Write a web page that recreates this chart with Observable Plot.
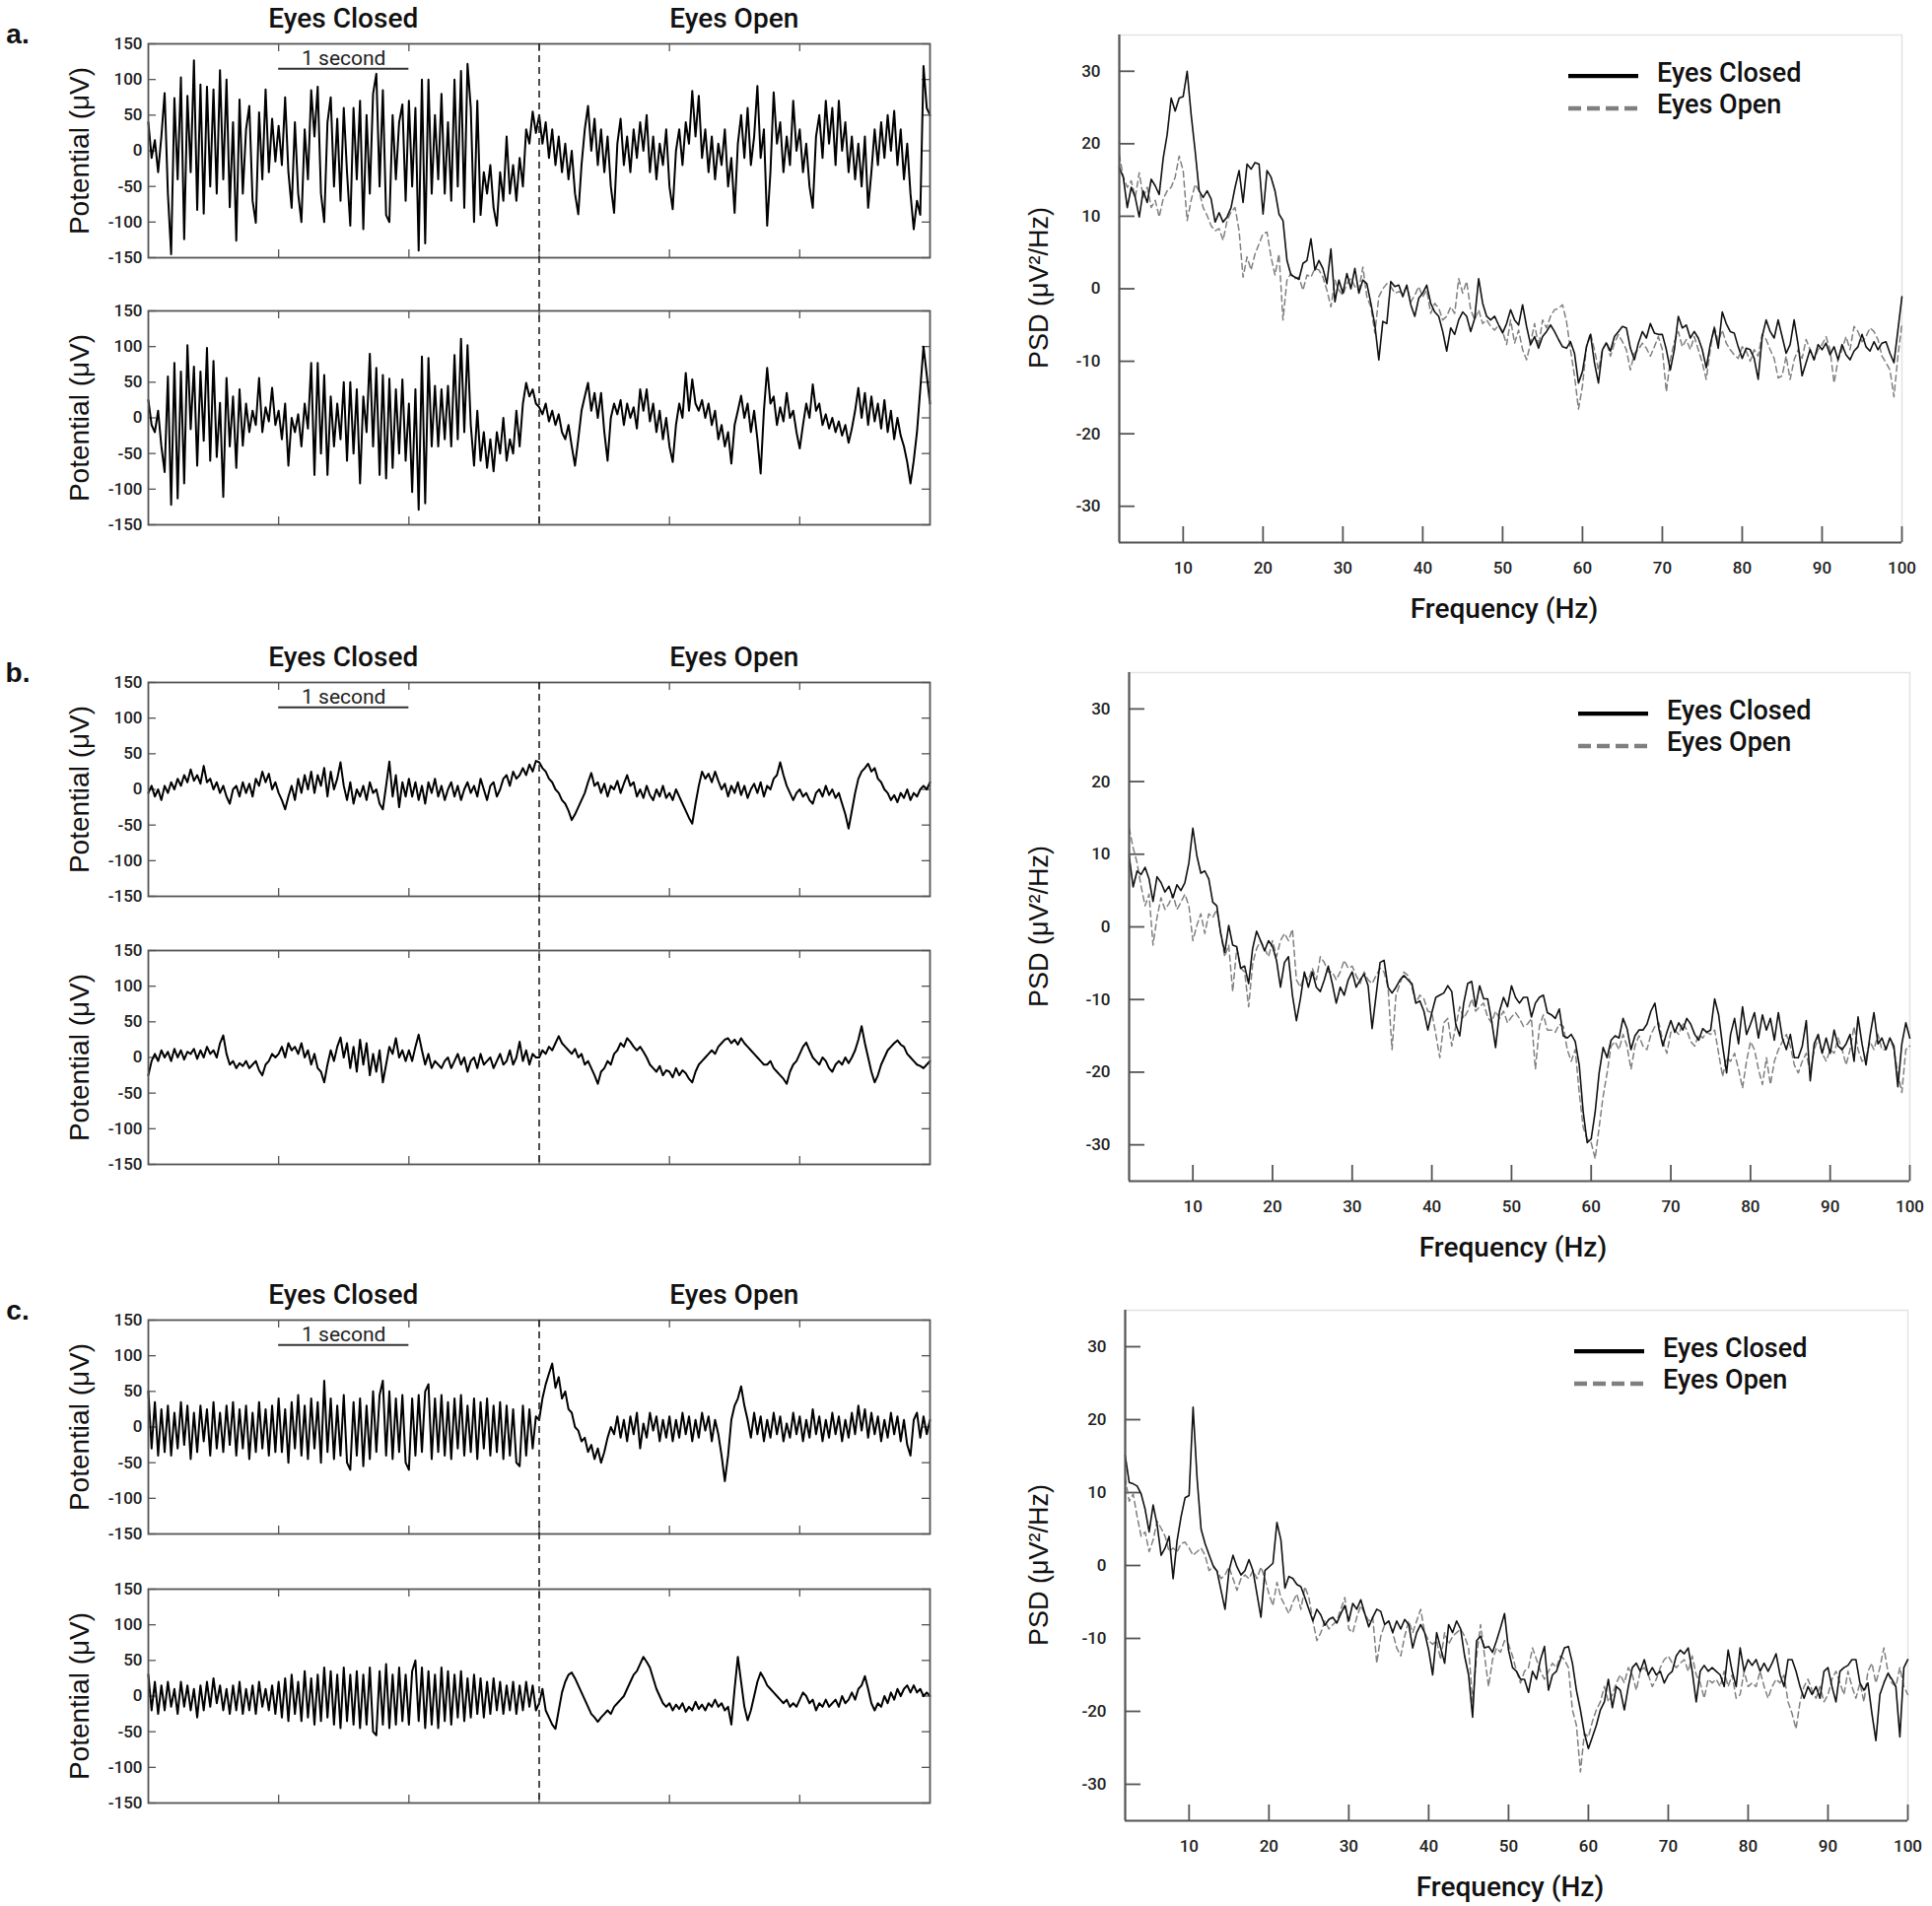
<!DOCTYPE html>
<html>
<head>
<meta charset="utf-8">
<script src="https://cdn.jsdelivr.net/npm/d3@7"></script>
<script src="https://cdn.jsdelivr.net/npm/@observablehq/plot@0.6"></script>
<style>
  html, body { margin: 0; padding: 0; background: #fff; }
  #root { position: relative; width: 1960px; height: 1934px; overflow: hidden; background: #fff; }
  .lbl { position: absolute; white-space: nowrap; line-height: 1; color: #111; }
  .cond { font-family: Roboto, "Liberation Sans", sans-serif; font-size: 28px; font-weight: 500; }
  .ylab { font-family: "Liberation Sans", Arial, sans-serif; font-size: 28px; }
  .panel { font-family: "Liberation Sans", Arial, sans-serif; font-size: 28px; font-weight: bold; }
</style>
</head>
<body>
<div id="root"></div>
<script>
// ---------------- DATA ----------------
// EEG traces: 0..6 s, one sample every 0.025 s (241 values), potential in µV
const eegTickValues = [-150, -100, -50, 0, 50, 100, 150];
const eegSeconds = [1, 2, 3, 4, 5];
const conditionLabels = ["Eyes Closed", "Eyes Open"];
const eventTime = 3;           // eyes open at 3 s
const scaleBarSeconds = [1, 2];
const scaleBarLabel = "1 second";
const panelLabels = ["a.", "b.", "c."];

const eegA1 = [
  40,-10,15,-30,20,81,-60,-145,74,-40,103,-124,77,-30,127,-83,93,-88,90,-50,86,-60,113,-40,100,-79,40,-126,72,-60,30,63,-70,-101,54,-40,86,-30,45,-15,
  35,-20,75,-30,-80,40,-60,-100,30,-40,85,20,90,-60,-100,40,75,-50,45,-70,60,-30,-105,60,-40,70,-110,50,-60,80,108,-50,85,-90,-100,50,-40,40,65,-70,
  70,-50,60,-140,100,-130,100,-60,50,-40,80,-60,40,-70,100,-50,112,-80,122,60,-100,70,-90,-30,-60,-20,-80,-105,-30,-70,20,-60,-20,-70,-10,-50,30,10,55,25,
  50,10,40,-10,30,-20,20,-30,10,-40,0,-60,-89,-20,30,63,0,45,-20,30,-30,20,-50,-87,10,45,-20,20,-30,30,-10,40,0,50,-30,20,-40,10,-20,30,
  -50,-82,0,30,-20,40,10,84,20,77,-10,30,-30,20,-40,10,-20,30,-50,-10,-87,10,50,-10,60,-20,20,91,-10,30,-105,-30,82,10,40,-30,20,-20,70,0,
  30,-30,10,-50,-80,20,50,-10,70,10,60,-20,70,0,40,-30,20,-40,10,-50,20,-80,-30,30,-20,40,-10,50,0,56,-20,30,-40,10,-60,-110,-70,-90,119,60,50
];
const eegA2 = [
  25,-10,-20,10,-40,-76,58,-122,77,-113,65,-92,102,-16,72,-67,65,-32,98,-60,80,-55,21,-111,56,-40,30,-70,40,-39,20,-20,10,-10,56,-20,15,-5,42,-10,
  10,-30,20,-67,0,-20,5,-40,20,-15,77,-80,77,-50,60,-80,30,-40,20,-30,50,-60,50,-50,40,-92,30,-20,90,-40,70,-80,60,-85,55,-70,40,-50,54,-60,
  20,-104,40,-129,86,-120,84,-40,45,-40,40,-30,45,-40,88,-30,111,-20,102,-10,-67,10,-60,-20,-70,-30,-75,-20,-50,0,-60,-30,-50,10,-40,20,49,30,40,20,
  15,5,20,-5,10,-10,5,-20,-30,-10,-40,-67,-30,10,30,49,10,35,0,35,-20,-60,0,20,5,25,-10,20,0,15,-15,40,10,40,-5,20,-20,10,-30,0,
  -40,-62,-10,20,0,63,10,54,20,10,25,0,20,-10,10,-30,-10,-40,-20,-64,-10,10,31,0,20,-20,10,-30,-78,10,70,20,30,-10,15,-5,35,0,10,-20,
  -43,-10,20,0,47,10,20,-10,5,-15,0,-20,-5,-25,-10,-35,-15,10,42,0,35,-10,30,-5,20,-15,25,-20,10,-30,0,-25,-40,-62,-92,-60,-20,40,100,60,20
];
const eegB1 = [
  -5,5,-10,0,-15,5,-5,10,0,15,5,20,10,28,12,20,8,33,10,15,0,10,-5,5,-10,-20,0,5,-10,10,-5,8,-10,15,5,25,10,22,0,10,
  -5,-15,-28,-10,5,-15,15,-5,20,0,25,-5,20,5,30,-10,25,0,15,38,5,-15,10,-20,0,-10,5,-15,10,-5,0,-20,-28,5,39,-10,20,-25,10,-10,
  15,-10,10,-15,5,-20,10,-5,15,-10,5,-15,0,10,-10,5,-15,0,10,-5,5,-10,15,0,-15,5,10,-10,0,15,20,5,25,15,20,30,20,35,25,40,
  38,30,25,15,10,0,-5,-15,-20,-30,-43,-35,-25,-15,-5,10,23,5,10,-5,8,-10,5,0,12,-5,8,20,5,10,-10,0,-12,5,-8,-15,0,-10,5,-12,
  -5,-15,0,-10,-20,-30,-40,-48,-20,5,25,15,22,10,25,12,0,8,-10,5,-5,10,-8,5,-12,0,8,-5,10,-10,5,0,15,20,38,20,5,-5,-15,-5,
  0,-10,-5,-15,-20,-5,0,-10,5,-8,0,-12,-5,-20,-35,-55,-30,-5,15,25,30,36,25,30,15,10,0,-5,-15,-8,-18,-5,-12,0,-15,-5,-10,0,5,0,10
];
const eegB2 = [
  -25,-5,5,-5,10,0,8,-5,12,0,10,-3,8,5,12,-2,10,0,15,5,10,0,20,31,5,-10,-5,-15,-8,-12,-5,-15,-10,-5,-18,-25,-10,-5,5,0,
  5,15,0,20,10,15,5,20,0,10,-10,5,-15,-20,-35,-10,10,-5,15,28,0,20,-15,15,-20,25,-10,20,-25,5,-20,10,-35,-10,15,5,27,0,10,-5,
  10,-5,15,32,10,-10,5,-15,-5,-10,-15,-5,0,-15,-5,5,-10,0,-20,-5,0,-15,5,-10,-5,0,-15,-5,5,-10,-5,10,-10,0,22,-5,10,-10,5,0,
  0,10,5,15,10,20,30,20,15,10,5,12,0,5,-10,-5,-15,-25,-37,-20,-15,-5,-10,5,10,20,15,27,22,15,10,15,8,0,-10,-15,-20,-12,-25,-18,
  -20,-28,-15,-25,-18,-22,-30,-35,-20,-10,-5,0,5,10,5,15,20,25,27,20,25,18,27,20,15,10,5,0,-5,-10,-10,-5,-15,-20,-25,-30,-37,-20,-10,-5,
  5,15,21,10,0,-5,-10,0,-5,-15,-20,-10,-5,-10,0,-8,0,10,25,44,20,0,-20,-35,-25,-10,0,10,15,20,24,18,15,5,0,-5,-10,-12,-15,-10,-5
];
const eegC1 = [
  50,-30,35,-40,25,-35,30,-40,20,-30,35,-25,30,-45,20,-35,30,-20,25,-40,35,-30,20,-35,30,-25,35,-40,25,-30,30,-45,20,-35,35,-30,25,-40,30,-35,
  40,-35,25,-50,35,-30,45,-40,30,-45,40,-30,35,-50,65,-35,40,-45,30,-40,45,-50,-60,35,-40,40,-55,30,-45,50,-35,45,65,-40,50,-45,40,-35,45,-50,
  -60,40,-40,45,-35,50,60,-45,40,-35,45,-40,35,-45,40,-30,45,-40,30,-35,40,-45,35,-30,40,-40,30,-35,35,-45,30,-40,25,-50,-55,30,-40,25,-30,15,
  10,40,60,75,89,55,70,40,50,25,20,0,-5,-20,-15,-35,-25,-45,-30,-50,-35,-15,0,-10,15,-15,10,-20,15,-10,20,-30,5,-15,20,-5,15,-20,10,-15,
  15,-20,10,-15,20,-10,15,-20,10,-15,20,-5,15,-20,10,-10,-40,-76,-40,10,30,40,57,30,10,-15,20,-10,15,-20,10,-15,20,-10,15,-20,5,-15,20,-10,
  15,-20,10,-15,25,-10,15,-20,10,-15,20,-10,15,-20,10,-15,20,-10,30,-5,25,-15,20,-10,15,-20,10,-15,20,-10,15,-20,10,-25,-40,10,20,-15,15,-10,10
];
const eegC2 = [
  30,-20,20,-25,15,-20,20,-15,10,-25,20,-15,15,-20,10,-30,15,-20,20,-15,25,-10,15,-20,10,-25,15,-20,20,-25,10,-20,15,-25,20,-15,10,-20,15,-25,
  20,-30,25,-35,30,-25,20,-35,35,-30,25,-40,30,-35,40,-30,35,-40,30,-45,40,-35,30,-40,35,-45,30,-40,40,-50,-55,35,-40,45,-45,30,-40,40,-35,30,
  -40,35,50,-35,40,-45,35,-40,30,-45,40,-35,35,-40,30,-30,35,-35,25,-30,30,-25,25,-30,20,-25,25,-20,20,-25,15,-20,20,-25,15,-20,20,-15,15,-20,
  -10,10,-20,-30,-40,-46,-20,5,20,30,33,25,15,5,-5,-15,-25,-30,-36,-30,-25,-20,-25,-15,-10,-5,0,10,20,30,35,45,55,48,40,25,10,0,-10,-15,
  -10,-20,-12,-18,-10,-22,-15,-20,-8,-18,-12,-20,-10,-15,-5,-15,-10,-20,-15,-40,10,55,20,-15,-34,-20,0,20,33,25,15,10,5,0,-5,-10,-5,-15,-10,-15,
  -5,5,0,-10,-5,-20,-10,-15,-5,-15,-10,-5,-15,0,-10,-5,5,-5,10,15,28,10,-10,-20,-10,-15,0,-10,5,-5,10,0,10,15,5,15,5,10,0,5,0
];

// PSD: 2..100 Hz every 0.5 Hz (197 values), µV²/Hz (dB)
const psdYTickValues = [-30, -20, -10, 0, 10, 20, 30];
const psdXTickValues = [10, 20, 30, 40, 50, 60, 70, 80, 90, 100];
const psdA_closed = [
  16.7,15.4,11.2,14,12.6,9.9,13.5,11.9,15.1,14.2,13,18,21.3,26.3,24.5,26.3,26.5,30,24,19,
  13.5,12.6,13.5,12.4,9.2,10.5,9.2,9.9,11.2,14,16.3,11.9,17.2,16.5,17.4,17.2,10.3,16.3,15.4,13.5,
  10.3,9.4,3.9,1.9,1.6,1.3,3.5,3.9,6.9,2.6,3.9,2.8,0.7,5.5,-1.8,1.2,-0.6,2.1,0,2.8,
  -0.6,1.2,0.7,-2,-5,-9.8,-4.5,-4.8,1,0.3,0.5,-1.1,0.5,-2.2,-3.8,-1.3,-0.6,0.5,-2,-3.2,
  -3.8,-5.9,-8.6,-5.4,-6.3,-4.3,-3.2,-3.8,-5.9,-4.1,1.4,-2,-3.8,-4.3,-3.8,-5,-6.1,-4.8,-2.9,-4.3,
  -5,-2.2,-5.2,-7.7,-6.6,-8.2,-6.6,-5.9,-5,-5.9,-7,-8,-8.2,-7.3,-8.9,-13,-11.4,-8,-6.3,-10.2,
  -13,-8.4,-7.5,-8.6,-6.6,-5.9,-5.2,-5.4,-8.2,-9.8,-7.5,-5.9,-6.8,-4.8,-6.1,-6.3,-6.3,-8.4,-11.2,-8.4,
  -3.8,-5.4,-5,-6.8,-5.9,-6.8,-8.4,-10.9,-7.7,-5.4,-8.2,-3.2,-4.8,-5.9,-6.1,-8,-9.6,-8.2,-8.4,-9.6,
  -12.5,-6.6,-4.3,-5.9,-6.8,-4.3,-6.6,-8.9,-7.7,-4.3,-7.7,-12,-10.2,-8.4,-9.8,-7.7,-8.4,-7.5,-9.1,-8,
  -9.8,-7.7,-9.1,-9.8,-8.6,-8,-6.3,-8,-8.6,-7.3,-8.4,-7.5,-7.3,-8.9,-10.2,-5.7,-1.1
];
const psdA_open = [
  18.5,15.4,14,14.9,12.6,16,12.6,14,11.2,12.2,9.9,12.4,13.5,14,15.4,18.3,16.3,9.4,12.2,14.4,
  13.5,11.2,10.1,8.7,8,8.3,6.7,9.4,10.6,11.2,8,1.6,4.4,2.6,4.8,6.2,7.6,7.8,4.4,1.9,
  4.8,-4.3,1.2,2.1,1.4,1.6,-0.2,1.9,1.6,2.8,2.6,1.6,-0.2,-2.5,1.2,-0.2,-0.9,0.7,1.4,0.3,
  -0.2,3,-1.1,-2.5,-6.1,-1.1,0,0.7,0.3,-0.6,-0.4,-0.6,0.3,-1.8,-0.9,0.3,-1.1,-0.2,-3.4,-2,
  -2.7,-4.3,-3.8,-2.5,-3.4,1.4,-0.6,1,-2.9,-4.3,-2.9,-4.8,-4.3,-5.2,-5.7,-5,-5.9,-7.7,-4.3,-7.5,
  -5.7,-8.4,-9.8,-7.5,-4.8,-8,-4.3,-5.4,-3.8,-2.9,-2.7,-2.2,-4.5,-8.4,-12,-16.6,-13.4,-8,-6.1,-8.4,
  -11.2,-8.4,-7.3,-9.3,-7.5,-6.3,-7.3,-8.4,-11.2,-8.9,-8.4,-7.5,-8.2,-9.3,-8,-6.6,-8.4,-14.2,-9.8,-7.3,
  -5.9,-8,-7,-8.4,-6.6,-8.4,-10.2,-12.5,-8.4,-5.2,-7.3,-5.7,-7.5,-8.4,-9.1,-9.6,-8,-8.6,-10,-8.4,
  -9.3,-6.3,-7,-8.4,-9.6,-12.3,-12,-9.3,-12.5,-9.8,-8.4,-9.6,-7,-8.4,-9.8,-8.4,-7.7,-6.6,-8.4,-13,
  -9.8,-8.4,-6.6,-8.4,-5.2,-5.9,-7.3,-6.6,-5.4,-5.9,-7,-9.3,-10.2,-11.2,-14.9,-9.3,-4.8
];
const psdB_closed = [
  9.8,5.5,7.7,7.2,8.2,6.6,3.5,6.9,6.1,4.8,5.6,4,5.8,5,6.1,8.8,13.6,9.8,7.4,7.7,
  6.6,3.4,2.9,-0.9,-3.5,0.2,-2.5,-2.7,-5.7,-5.4,-7.8,-3,-0.6,-1.9,-3.3,-1.9,-2.7,-4.6,-8.3,-4.9,
  -4.1,-9.4,-12.9,-9.9,-6.2,-8.3,-6.2,-8.3,-8.9,-7.3,-5.4,-7.8,-10.5,-8.3,-9.4,-7.3,-6.2,-8.3,-7.3,-6.5,
  -8.1,-14,-9.4,-4.9,-4.6,-8.3,-9.1,-8.3,-7.3,-6.7,-7.3,-7.8,-10.5,-10.2,-11.6,-14.2,-11.8,-9.7,-9.4,-9.1,
  -8.1,-8.9,-13.4,-15,-10.5,-7.8,-7.5,-11,-8.1,-9.9,-9.9,-12.9,-16.6,-11.6,-9.7,-11,-8.1,-9.7,-10.5,-9.7,
  -9.7,-12.4,-10.5,-9.7,-9.4,-11.8,-12.1,-12.6,-11.3,-15,-15.3,-14.8,-15.8,-19,-25.5,-29.7,-29.2,-25.5,-20.1,-16.6,
  -18,-15.6,-15,-15.3,-12.6,-14,-16.9,-15,-14.2,-14.2,-13.4,-11.6,-10.5,-14,-16.4,-14.5,-12.9,-14.5,-13.2,-14.2,
  -12.6,-13.4,-14.8,-15.6,-14,-14.5,-14.2,-9.9,-12.1,-16.4,-20.1,-14.8,-12.6,-16.1,-11,-14.8,-13.4,-11.8,-15.3,-12.1,
  -14.2,-12.6,-15.6,-11.8,-15.3,-16.9,-14.8,-18,-18,-16.4,-12.9,-21.2,-16.1,-14.8,-17.4,-15.3,-17.4,-14.2,-16.4,-16.9,
  -16.1,-14.8,-18.5,-12.4,-16.1,-19,-15,-11.8,-16.1,-15.3,-16.9,-15.3,-16.4,-22,-16.1,-13.2,-15.3
];
const psdB_open = [
  13.6,10.9,8.8,5.6,2.9,4.5,-2.5,1.3,4,2.4,3.2,4.5,2.4,3.4,4.5,2.9,-1.9,0.2,1.8,-0.9,
  1.8,1.3,2.4,-0.9,-4.1,-2.5,-8.9,-3,-5.7,-6.2,-11,-5.1,-3,-1.9,-3,-4.1,-1.9,-4.1,-1.9,-0.9,
  -1.9,-0.3,-7.3,-8.3,-6.7,-7.3,-5.7,-7.3,-4.1,-4.9,-6.2,-6.2,-7.3,-6.2,-4.6,-5.7,-5.4,-6.7,-7.8,-6.2,
  -7.3,-7.8,-6.7,-5.7,-6.2,-8.3,-16.9,-9.4,-7.8,-6.2,-6.7,-8.3,-10.5,-9.4,-9.9,-11.6,-11.8,-14.8,-18,-13.2,
  -12.6,-16.4,-13.7,-11,-12.6,-11.6,-9.9,-11.6,-11,-10.5,-12.4,-13.2,-11.6,-12.6,-11.6,-13.2,-12.4,-11.8,-12.6,-13.7,
  -13.4,-12.6,-19.6,-13.7,-12.1,-14.2,-14.2,-14.5,-13.4,-13.7,-16.9,-18.5,-16.9,-22.8,-27.6,-29.2,-29.7,-31.9,-27.6,-23.3,
  -20.1,-16.4,-15.8,-16.9,-14.8,-16.4,-19.6,-16.4,-15,-16.4,-16.9,-14.8,-13.7,-13.2,-15.8,-17.4,-14.5,-14.2,-14.8,-13.2,
  -14.2,-15.8,-16.4,-14.8,-15.3,-14.5,-14.8,-14.2,-17.4,-20.6,-18,-18.5,-17.4,-19.6,-22.2,-18.5,-15.8,-16.9,-19.6,-21.7,
  -18,-21.7,-18.5,-16.9,-15.8,-14.8,-16.4,-19,-20.1,-18.5,-17.4,-20.1,-16.9,-15.3,-17.4,-18.5,-16.9,-17.4,-15.3,-16.9,
  -19,-16.9,-13.7,-16.9,-18.5,-18,-15.8,-16.9,-14.8,-16.9,-16.9,-15.3,-16.9,-20.1,-22.8,-16.9,-16.4
];
const psdC_closed = [
  15.1,11.4,11.2,10.9,9.8,7.7,4.6,8.3,5.6,1.4,2.4,4,-1.8,3.4,6.7,9.3,9.6,21.7,12,5,
  3,1.5,0,-0.8,-3.4,-6,-0.7,1.4,-0.2,-1.3,-0.7,0.8,-0.7,-3.9,-7.1,-0.7,-0.2,0.3,5.9,3.5,
  -3.1,-1.5,-1.8,-2.6,-2.9,-4.4,-6,-7.6,-6,-6.8,-8.2,-7.4,-7.1,-7.9,-6.6,-5.5,-7.6,-5.2,-6,-4.7,
  -6.6,-8.4,-7.1,-6,-6.3,-8.1,-7.6,-9.2,-7.6,-8.7,-7.4,-8.1,-11.3,-9.2,-8.1,-9.2,-11.6,-15,-9.2,-11.3,
  -13.4,-8.1,-9.2,-7.6,-8.7,-12.4,-15,-20.8,-10.3,-9.7,-11.3,-11.1,-11.9,-10.3,-8.5,-6.6,-11.6,-14,-14.5,-15.6,
  -15.6,-17.4,-14.5,-15.6,-12.9,-11.1,-17.1,-15,-14.5,-12.9,-11.3,-11.1,-13.4,-17.1,-19.8,-23,-25.1,-23.5,-21.9,-19.8,
  -18.7,-15.6,-19.5,-16.6,-17.1,-19.8,-16.6,-14,-13.4,-14.5,-12.9,-15,-14,-15,-14.5,-16.1,-15,-14.5,-12.4,-11.6,
  -12.1,-11.3,-14.5,-18.7,-14.5,-13.7,-14.5,-14,-14.5,-15,-16.6,-11.6,-14.5,-16.6,-11.3,-14.5,-12.9,-13.7,-12.9,-14.5,
  -13.4,-14.5,-13.4,-12.1,-15,-16.6,-12.9,-12.9,-14.5,-16.6,-18.2,-16.6,-17.7,-16.6,-18.2,-14.5,-14,-16.6,-18.7,-14.5,
  -14,-13.7,-12.9,-12.9,-16.1,-17.1,-16.1,-20.3,-24,-17.7,-16.1,-14.8,-15.6,-16.6,-23.5,-14,-12.9
];
const psdC_open = [
  12,8.8,9.8,6.7,4,4.6,1.9,3.5,6.1,5.1,4,1.9,2.4,1.9,3,3.2,2.4,1.4,1.9,2.4,
  1.4,-0.7,-0.2,-0.7,-1.8,-1.3,-0.2,-1.8,-3.4,-1.8,-1.3,-1.8,-0.7,-1.8,-0.2,-1.8,-3.9,-5.5,-2.3,-4.4,
  -5.5,-6.6,-5,-3.9,-6,-2.9,-4.4,-7.6,-10.3,-9.2,-7.6,-8.7,-8.1,-7.6,-6,-4.4,-8.7,-9.2,-7.1,-5.5,
  -6.6,-7.6,-7.1,-13.4,-9.7,-8.1,-7.6,-9.2,-11.3,-12.4,-9.7,-7.6,-9.2,-7.6,-6,-9.2,-10.3,-10.8,-10.3,-12.9,
  -9.2,-10.8,-9.7,-9.2,-8.7,-9.7,-11.3,-18.7,-12.4,-8.1,-12.4,-16.6,-12.9,-11.3,-11.9,-10.3,-10.8,-12.4,-14.5,-16.1,
  -14.5,-14,-11.3,-12.9,-14.5,-15.6,-14.5,-13.4,-14,-12.4,-12.9,-14,-19.8,-21.9,-28.3,-23,-23.5,-21.4,-19.8,-18.7,
  -16.6,-18.7,-17.7,-16.1,-15,-16.1,-14,-15,-17.1,-14.5,-14,-15,-16.6,-15.6,-14,-12.9,-12.4,-13.4,-14,-13.4,
  -12.9,-14.5,-12.4,-15,-16.1,-18.2,-15.6,-16.1,-15.6,-16.6,-14.5,-16.6,-15,-18.2,-17.7,-14.5,-16.6,-16.1,-16.6,-14.5,
  -16.6,-18.2,-16.6,-15.6,-16.1,-15,-18.7,-20.3,-22.4,-18.7,-16.6,-15.6,-17.1,-18.2,-16.6,-18.7,-17.7,-15.6,-14.5,-16.1,
  -17.7,-14.5,-16.6,-18.2,-16.1,-18.7,-14.5,-13.4,-16.1,-14,-11.3,-14.5,-16.1,-16.6,-14,-16.6,-17.7
];

// ---------------- LAYOUT ----------------
const root = document.getElementById("root");
const DT = 0.025, F0 = 2, DF = 0.5;
const EEG = {left: 150, w: 793, h: 217, mL: 70, mR: 8, mT: 6, mB: 6};
const PSD = {mL: 84, mR: 8, mT: 6, mB: 60};
const FONT_COND = "Roboto, 'Liberation Sans', sans-serif";

const rows = [
  {label: panelLabels[0], top1: 44, top2: 315, e1: eegA1, e2: eegA2, pc: psdA_closed, po: psdA_open, pl: 1135, pt: 34.5, pw: 794, ph: 515},
  {label: panelLabels[1], top1: 692, top2: 964, e1: eegB1, e2: eegB2, pc: psdB_closed, po: psdB_open, pl: 1145, pt: 682, pw: 792, ph: 516},
  {label: panelLabels[2], top1: 1339, top2: 1612, e1: eegC1, e2: eegC2, pc: psdC_closed, po: psdC_open, pl: 1141, pt: 1329, pw: 794, ph: 518}
];

function addLabel(text, x, y, cls, opts = {}) {
  const d = document.createElement("div");
  d.className = "lbl " + cls;
  d.textContent = text;
  d.style.left = x + "px";
  d.style.top = y + "px";
  let tr = opts.anchor === "left" ? "translate(0,-50%)" : "translate(-50%,-50%)";
  if (opts.rotate) tr += " rotate(-90deg)";
  d.style.transform = tr;
  if (opts.size) d.style.fontSize = opts.size + "px";
  root.appendChild(d);
  return d;
}

function place(el, left, top) {
  el.style.position = "absolute";
  el.style.left = left + "px";
  el.style.top = top + "px";
  root.appendChild(el);
}

function eegPlot(values, withBar) {
  const data = values.map((v, i) => ({t: i * DT, v}));
  const tickStyle = {stroke: "#555", strokeWidth: 1.3};
  const marks = [
    Plot.ruleY(eegTickValues, {y: d => d, insetRight: EEG.w - 8, ...tickStyle}),
    Plot.ruleY(eegTickValues, {y: d => d, insetLeft: EEG.w - 8, ...tickStyle}),
    Plot.ruleX(eegSeconds, {x: d => d, insetBottom: EEG.h - 8, ...tickStyle}),
    Plot.ruleX(eegSeconds, {x: d => d, insetTop: EEG.h - 8, ...tickStyle}),
    Plot.line(data, {x: "t", y: "v", stroke: "#000", strokeWidth: 2, strokeLinejoin: "round"}),
    Plot.frame({stroke: "#555", strokeWidth: 1.8}),
    Plot.axisY({ticks: eegTickValues, tickSize: 0, tickPadding: 6, tickFormat: d => String(d), fontSize: 17, fontWeight: 500, label: null, fill: "#222"})
  ];
  if (withBar) {
    marks.push(Plot.ruleY([115], {x1: scaleBarSeconds[0], x2: scaleBarSeconds[1], stroke: "#333", strokeWidth: 2}));
    marks.push(Plot.text([scaleBarLabel], {x: (scaleBarSeconds[0] + scaleBarSeconds[1]) / 2, y: 115, dy: -4, lineAnchor: "bottom", text: d => d, fontSize: 21, fill: "#222"}));
  }
  return Plot.plot({
    width: EEG.mL + EEG.w + EEG.mR,
    height: EEG.mT + EEG.h + EEG.mB,
    marginLeft: EEG.mL, marginRight: EEG.mR, marginTop: EEG.mT, marginBottom: EEG.mB,
    x: {domain: [0, 6], axis: null, label: null},
    y: {domain: [-150, 150], label: null},
    style: {fontFamily: FONT_COND, fontSize: "17px", color: "#222", background: "transparent", overflow: "visible"},
    marks
  });
}

function psdPlot(row) {
  const closedData = row.pc.map((p, i) => ({f: F0 + i * DF, p}));
  const openData = row.po.map((p, i) => ({f: F0 + i * DF, p}));
  const axisStyle = {stroke: "#555", strokeWidth: 1.8};
  return Plot.plot({
    width: PSD.mL + row.pw + PSD.mR,
    height: PSD.mT + row.ph + PSD.mB,
    marginLeft: PSD.mL, marginRight: PSD.mR, marginTop: PSD.mT, marginBottom: PSD.mB,
    x: {domain: [2, 100], label: null},
    y: {domain: [-35, 35], label: null},
    style: {fontFamily: FONT_COND, fontSize: "17px", color: "#222", background: "transparent", overflow: "visible"},
    marks: [
      Plot.frame({stroke: "#e3e3e3", strokeWidth: 1.5}),
      Plot.ruleY(psdYTickValues, {y: d => d, insetRight: row.pw - 16, ...axisStyle}),
      Plot.ruleX(psdXTickValues, {x: d => d, insetTop: row.ph - 16, ...axisStyle}),
      Plot.line(openData, {x: "f", y: "p", stroke: "#808080", strokeWidth: 1.5, strokeDasharray: "6,4"}),
      Plot.line(closedData, {x: "f", y: "p", stroke: "#111", strokeWidth: 1.6, strokeLinejoin: "round"}),
      Plot.ruleX([2], {...axisStyle, strokeWidth: 2.2}),
      Plot.ruleY([-35], {...axisStyle, strokeWidth: 2.2}),
      Plot.axisY({ticks: psdYTickValues, tickSize: 0, tickPadding: 19, tickFormat: d => String(d), fontSize: 17, fontWeight: 500, label: null, fill: "#222"}),
      Plot.axisX({ticks: psdXTickValues, tickSize: 0, tickPadding: 19, tickFormat: d => String(d), fontSize: 17, fontWeight: 500, label: null, fill: "#222"})
    ]
  });
}

function legend(row) {
  const L = row.pl, T = row.pt;
  const wrap = document.createElement("div");
  wrap.innerHTML = `<svg width="76" height="40" xmlns="http://www.w3.org/2000/svg">
    <line x1="2" x2="73" y1="2" y2="2" stroke="#000" stroke-width="4.5"/>
    <line x1="2" x2="73" y1="35" y2="35" stroke="#7f7f7f" stroke-width="4.5" stroke-dasharray="13,6"/>
  </svg>`;
  const svg = wrap.firstElementChild;
  place(svg, L + 454, T + 40);
  addLabel(conditionLabels[0], L + 546, T + 39, "cond", {anchor: "left", size: 27});
  addLabel(conditionLabels[1], L + 546, T + 71, "cond", {anchor: "left", size: 27});
}

for (const row of rows) {
  // panel letter
  addLabel(row.label, 18, row.top1 - 9, "panel");

  // EEG panels
  const p1 = eegPlot(row.e1, true);
  const p2 = eegPlot(row.e2, false);
  place(p1, EEG.left - EEG.mL, row.top1 - EEG.mT);
  place(p2, EEG.left - EEG.mL, row.top2 - EEG.mT);
  const xs = p1.scale("x");
  const ox = EEG.left - EEG.mL;

  // condition titles
  addLabel(conditionLabels[0], ox + xs.apply(1.5), row.top1 - 25, "cond");
  addLabel(conditionLabels[1], ox + xs.apply(4.5), row.top1 - 25, "cond");

  // y-axis labels
  addLabel("Potential (\u03bcV)", 81, row.top1 + EEG.h / 2, "ylab", {rotate: true});
  addLabel("Potential (\u03bcV)", 81, row.top2 + EEG.h / 2, "ylab", {rotate: true});

  // dashed event line spanning both panels
  const ex = ox + xs.apply(eventTime);
  const y0 = row.top1, y1 = row.top2 + EEG.h;
  const wrap = document.createElement("div");
  wrap.innerHTML = `<svg width="6" height="${y1 - y0}" xmlns="http://www.w3.org/2000/svg"><line x1="3" x2="3" y1="0" y2="${y1 - y0}" stroke="#222" stroke-width="1.6" stroke-dasharray="7,5"/></svg>`;
  place(wrap.firstElementChild, ex - 3, y0);

  // PSD
  const ps = psdPlot(row);
  place(ps, row.pl - PSD.mL, row.pt - PSD.mT);
  addLabel("PSD (\u03bcV\u00b2/Hz)", 1054, row.pt + row.ph / 2, "ylab", {rotate: true, size: 27});
  addLabel("Frequency (Hz)", row.pl + row.pw / 2 - 6, row.pt + row.ph + 68, "cond");
  legend(row);
}
</script>
</body>
</html>
